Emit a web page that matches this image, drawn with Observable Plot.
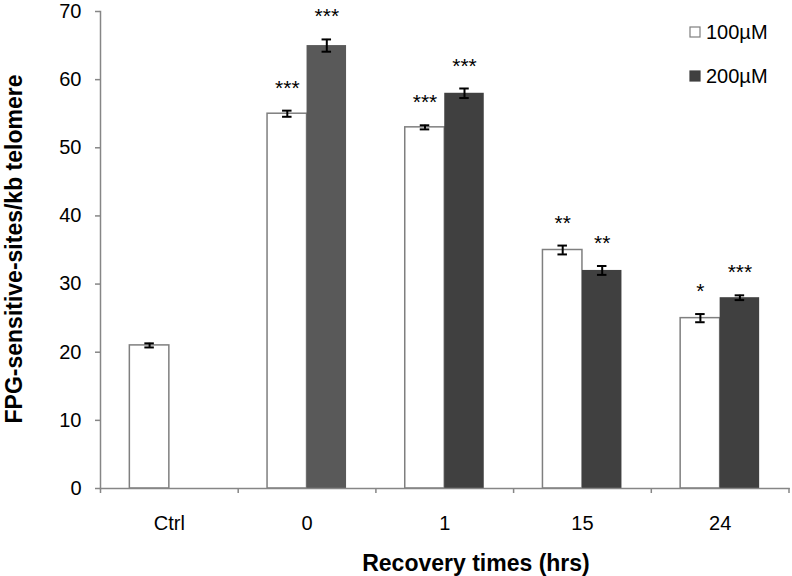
<!DOCTYPE html>
<html>
<head>
<meta charset="utf-8">
<script src="https://cdn.jsdelivr.net/npm/d3@7"></script>
<script src="https://cdn.jsdelivr.net/npm/@observablehq/plot@0.6"></script>
<style>
  html, body { margin: 0; padding: 0; background: #ffffff; }
  #chart { width: 792px; height: 576px; }
</style>
</head>
<body>
<div id="chart"></div>
<script>
// ---- data ----
const categories = ["Ctrl", "0", "1", "15", "24"];
const series = ["100µM", "200µM"];
const values100 = [21, 55, 53, 35, 25];
const errors100 = [0.3, 0.45, 0.3, 0.65, 0.6];
const sig100 = ["", "***", "***", "**", "*"];
const values200 = [null, 65, 58, 32, 28];
const errors200 = [null, 0.9, 0.7, 0.65, 0.35];
const sig200 = ["", "***", "***", "**", "***"];
const yTicks = [0, 10, 20, 30, 40, 50, 60, 70];
const xTitle = "Recovery times (hrs)";
const yTitle = "FPG-sensitive-sites/kb telomere";

// ---- table built from the arrays ----
const rows = [];
categories.forEach((c, i) => {
  rows.push({time: c, series: series[0], value: values100[i], err: errors100[i], sig: sig100[i]});
  if (values200[i] != null)
    rows.push({time: c, series: series[1], value: values200[i], err: errors200[i], sig: sig200[i]});
});

const axisGray = "#868686";
const outlineGray = "#7f7f7f";
const fillFor = d => d.series === series[0] ? "#ffffff" : (d.time === "0" ? "#595959" : "#404040");
const font = "'Liberation Sans', Arial, Helvetica, sans-serif";

const W = 792, H = 576;
const mL = 100, mR = 3.5, mT = 11, mB = 88;
const band = (W - mL - mR) / categories.length;

const chart = Plot.plot({
  width: W,
  height: H,
  marginLeft: mL,
  marginRight: mR,
  marginTop: mT,
  marginBottom: mB,
  style: {fontFamily: font, fontSize: "20px", background: "#ffffff", color: "#000000", overflow: "visible"},
  fx: {domain: categories, padding: 0, round: false, label: null},
  x: {domain: series, paddingInner: 0, paddingOuter: 0.743, round: false, axis: null},
  y: {domain: [0, 70], label: null},
  marks: [
    Plot.barY(rows, {
      fx: "time", x: "series", y: "value",
      fill: fillFor,
      stroke: d => d.series === series[0] ? outlineGray : "none",
      strokeWidth: 1.5
    }),
    Plot.frame({anchor: "bottom", stroke: axisGray, strokeWidth: 1.5, facet: "super"}),
    Plot.frame({anchor: "left", stroke: axisGray, strokeWidth: 1.5, facet: "super"}),
    Plot.ruleX(rows, {
      fx: "time", x: "series",
      y1: d => d.value - d.err, y2: d => d.value + d.err,
      stroke: "#000000", strokeWidth: 2
    }),
    Plot.tickY(rows, {
      fx: "time", x: "series", y: d => d.value + d.err,
      stroke: "#000000", strokeWidth: 2, insetLeft: 15, insetRight: 15
    }),
    Plot.tickY(rows, {
      fx: "time", x: "series", y: d => d.value - d.err,
      stroke: "#000000", strokeWidth: 2, insetLeft: 15, insetRight: 15
    }),
    Plot.text(rows.filter(d => d.sig), {
      fx: "time", x: "series", y: d => d.value + d.err,
      text: "sig", lineAnchor: "bottom", dy: -16,
      fontSize: 21, fill: "#000000"
    }),
    Plot.axisY({
      ticks: yTicks, tickSize: 5, tickPadding: 14, fontSize: 20,
      stroke: axisGray, strokeWidth: 1.5, fill: "#000000", label: null
    }),
    Plot.axisFx({anchor: "bottom", tickSize: 0, tickPadding: 27, fontSize: 20, fill: "#000000", label: null}),
    Plot.axisFx({anchor: "bottom", text: null, tickSize: 5, stroke: axisGray, strokeWidth: 1.5, dx: -band / 2, label: null}),
    Plot.axisFx({anchor: "bottom", ticks: [categories[categories.length - 1]], text: null, tickSize: 5, stroke: axisGray, strokeWidth: 1.5, dx: band / 2, label: null})
  ]
});

const svg = d3.select(chart);

// axis titles
svg.append("text")
  .attr("x", 476).attr("y", 571)
  .attr("text-anchor", "middle")
  .style("font-family", font).style("font-size", "23px").style("font-weight", "bold")
  .attr("fill", "#000000")
  .text(xTitle);

svg.append("text")
  .attr("transform", "translate(22,249) rotate(-90)")
  .attr("text-anchor", "middle")
  .style("font-family", font).style("font-size", "23px").style("font-weight", "bold")
  .attr("fill", "#000000")
  .text(yTitle);

// legend
const legend = svg.append("g").attr("class", "legend");
series.forEach((s, i) => {
  const g = legend.append("g").attr("transform", `translate(690,${27 + i * 44})`);
  g.append("rect").attr("x", 0).attr("y", 0).attr("width", 10).attr("height", 10)
    .attr("fill", i === 0 ? "#ffffff" : "#404040")
    .attr("stroke", i === 0 ? outlineGray : "#404040").attr("stroke-width", 1.2);
  g.append("text").attr("x", 16).attr("y", 11.5)
    .attr("text-anchor", "start")
    .style("font-family", font).style("font-size", "20px")
    .attr("fill", "#000000").text(s);
});

document.getElementById("chart").appendChild(chart);
</script>
</body>
</html>
